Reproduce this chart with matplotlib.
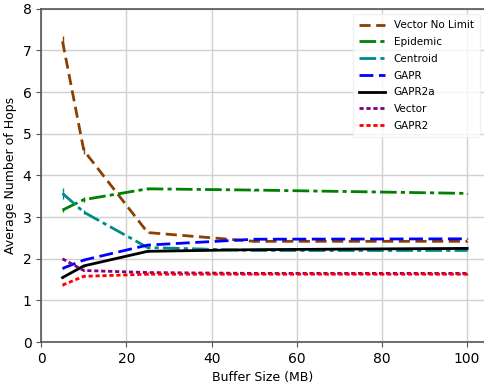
#basics
import numpy as np
#viz
import matplotlib
matplotlib.use("Agg")
import matplotlib.pyplot as plt

# buffer sizes (MB)
buffer_mb = [5, 10, 25, 50, 100]

# average number of hops per protocol
vector_no_limit = [7.22, 4.60, 2.63, 2.42, 2.42]
epidemic = [3.17, 3.42, 3.68, 3.65, 3.57]
centroid = [3.57, 3.12, 2.27, 2.20, 2.20]
gapr = [1.77, 1.97, 2.33, 2.47, 2.48]
gapr2a = [1.55, 1.83, 2.18, 2.22, 2.25]
vector = [2.00, 1.72, 1.67, 1.65, 1.65]
gapr2 = [1.37, 1.58, 1.63, 1.63, 1.63]

# small error bars
vnl_err = [0.13, 0.08, 0.02, 0.01, 0.01]
epi_err = [0.05, 0.06, 0.03, 0.02, 0.02]
cen_err = [0.14, 0.05, 0.03, 0.02, 0.02]
small_err = [0.02, 0.02, 0.01, 0.01, 0.01]

series = [
    ("Vector No Limit", vector_no_limit, vnl_err, "#8B4000", (0, (4, 2))),
    ("Epidemic", epidemic, epi_err, "green", (0, (6, 1.5, 1.5, 1.5))),
    ("Centroid", centroid, cen_err, "#008B8B", (0, (6, 1.5, 1.5, 1.5))),
    ("GAPR", gapr, small_err, "blue", (0, (5, 2))),
    ("GAPR2a", gapr2a, small_err, "black", "-"),
    ("Vector", vector, small_err, "purple", (0, (1.5, 1))),
    ("GAPR2", gapr2, small_err, "red", (0, (1.5, 1))),
]

fig = plt.figure(figsize=(4.85, 3.84), dpi=100)
ax = fig.add_axes([0.085, 0.109, 0.915, 0.868])

for name, vals, err, col, ls in series:
    ax.plot(buffer_mb, vals, color=col, linestyle=ls, linewidth=2, label=name)
    ax.errorbar(buffer_mb, vals, yerr=err, fmt='none', ecolor=col, elinewidth=1, capsize=0)

ax.set_xlim(0, 104.2)
ax.set_ylim(0, 8)
ax.set_xticks([0, 20, 40, 60, 80, 100])
ax.grid(color='#d0d0d0', linewidth=1)
ax.set_axisbelow(True)
for s in ['left', 'bottom', 'top']:
    ax.spines[s].set_color('#555555')
    ax.spines[s].set_linewidth(1.2)
ax.spines['right'].set_visible(False)
ax.tick_params(labelsize=10, color='#555555')
ax.set_xlabel("Buffer Size (MB)", fontsize=9)
ax.set_ylabel("Average Number of Hops", fontsize=9)
leg = ax.legend(loc='upper right', fontsize=7.5, framealpha=0.8, edgecolor='#eeeeee',
                handlelength=2.5, borderpad=0.6, labelspacing=0.65)

fig.savefig("out.png", dpi=100)
